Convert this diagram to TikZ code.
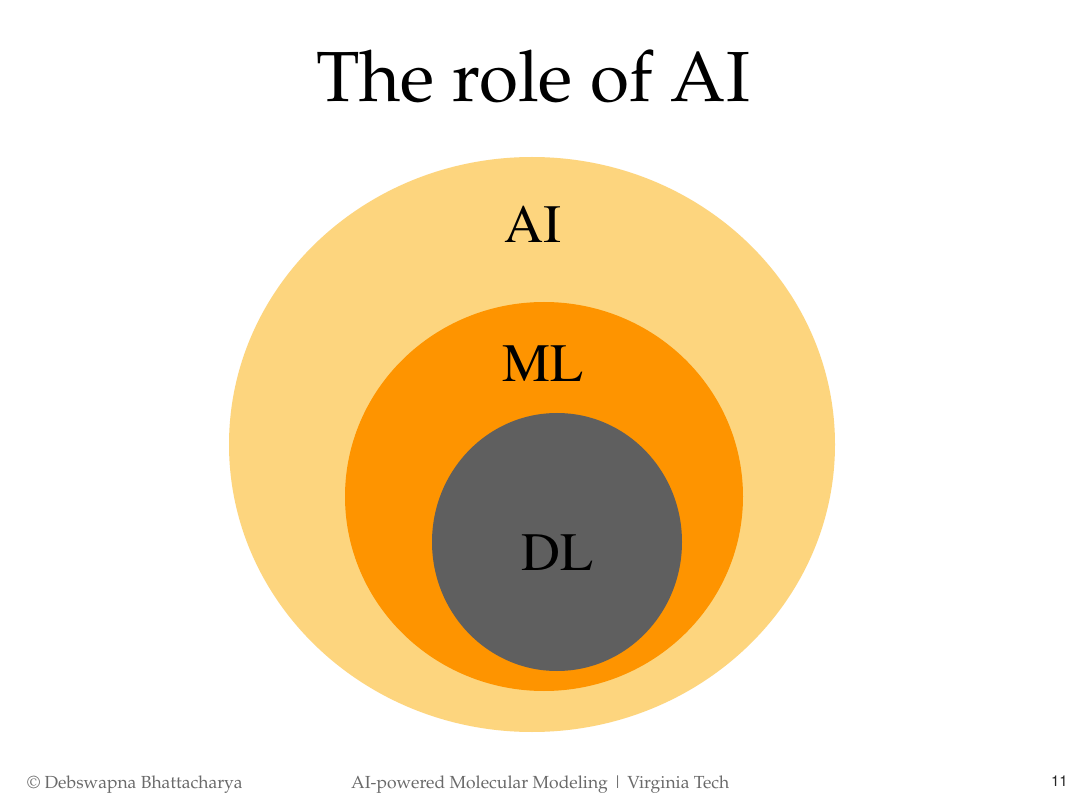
\documentclass[tikz,border=0pt]{standalone}
\usepackage[T1]{fontenc}
\definecolor{aicol}{HTML}{FDD57E}
\definecolor{mlcol}{HTML}{FE9400}
\definecolor{dlcol}{HTML}{5F5F5F}
\definecolor{footcol}{HTML}{6A6A6A}
\tikzset{
  titletext/.style={anchor=base, inner sep=0pt, font=\fontfamily{ppl}\fontsize{71}{80}\selectfont},
  ringlabel/.style={anchor=base, inner sep=0pt, font=\fontfamily{ptm}\fontsize{54}{60}\selectfont},
  foottext/.style={anchor=base west, inner sep=0pt, text=footcol, font=\fontfamily{ppl}\fontsize{17.5}{20}\selectfont},
}
\begin{document}
\begin{tikzpicture}[x=1pt,y=-1pt]
\useasboundingbox[fill=white] (0,0) rectangle (1080,810);
% circles
\fill[aicol] (532,444.5) ellipse [x radius=303pt, y radius=287.5pt];
\fill[mlcol] (544,496.5) ellipse [x radius=199pt, y radius=194.5pt];
\fill[dlcol] (557,542) ellipse [x radius=125pt, y radius=129pt];
% labels
\node[titletext] (title) at (533,102) {The role of AI};
\node[ringlabel] (ai) at (533,243) {AI};
\node[ringlabel] (ml) at (543,382) {ML};
\node[ringlabel] (dl) at (557,570) {DL};
% footer
\node[foottext] (author) at (27,788) {\textcopyright\ Debswapna Bhattacharya};
\node[foottext] (course) at (351,788) {AI-powered Molecular Modeling \textbar\ Virginia Tech};
\node[anchor=base east, inner sep=0pt, text=black!85, font=\fontfamily{phv}\fontsize{15}{18}\selectfont] (page) at (1068,786) {11};
\end{tikzpicture}
\end{document}
